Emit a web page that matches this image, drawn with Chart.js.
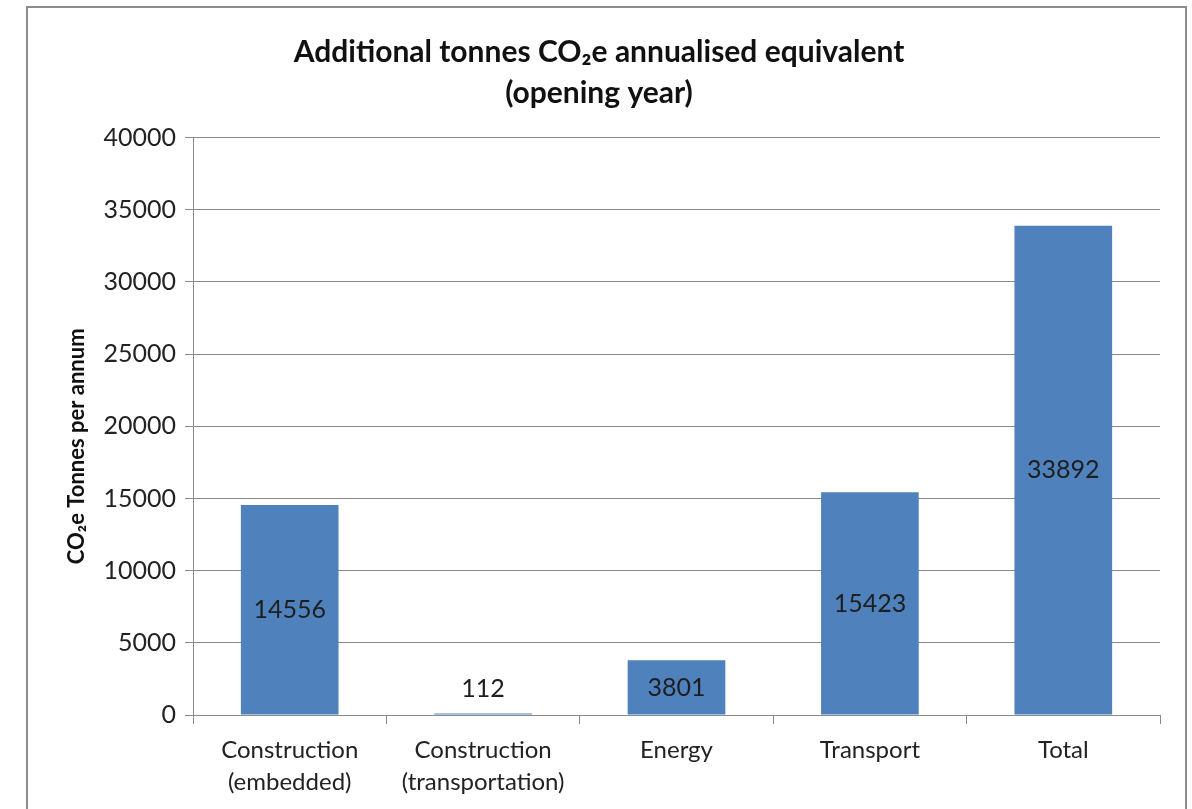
<!DOCTYPE html>
<html>
<head>
<meta charset="utf-8">
<script src="https://cdn.jsdelivr.net/npm/chart.js@4"></script>
<style>
html,body{margin:0;padding:0;background:#fff;}
#wrap{position:relative;width:1192px;height:809px;}
</style>
</head>
<body>
<div id="wrap"><canvas id="c" width="1192" height="809"></canvas></div>
<script>
const categories = [["Construction","(embedded)"],["Construction","(transportation)"],["Energy"],["Transport"],["Total"]];
const values = [14556, 112, 3801, 15423, 33892];
const yTicks = [0, 5000, 10000, 15000, 20000, 25000, 30000, 35000, 40000];
const titleLines = ["Additional tonnes CO\u2082e annualised equivalent", "(opening year)"];
const yTitle = "CO\u2082e Tonnes per annum";

const FONT = "Lato, 'Open Sans', sans-serif";
const GRID = "#8a8a8a";

const borderPlugin = {
  id: 'border',
  beforeDraw(chart) {
    const ctx = chart.ctx;
    ctx.save();
    ctx.fillStyle = '#fff';
    ctx.fillRect(0, 0, chart.width, chart.height);
    ctx.strokeStyle = '#8c8c8c';
    ctx.lineWidth = 2;
    ctx.strokeRect(27, 7, 1159, 840);
    ctx.restore();
  }
};

const yTitlePlugin = {
  id: 'yTitle',
  afterDraw(chart) {
    const ctx = chart.ctx;
    const a = chart.chartArea;
    ctx.save();
    ctx.translate(77, (a.top + a.bottom) / 2 + 20);
    ctx.rotate(-Math.PI / 2);
    ctx.font = "bold 22px " + FONT;
    ctx.fillStyle = "#111";
    ctx.textAlign = "center";
    ctx.textBaseline = "middle";
    ctx.fillText(yTitle, 0, 0);
    ctx.restore();
  }
};

const valueLabels = {
  id: 'valueLabels',
  afterDatasetsDraw(chart) {
    const ctx = chart.ctx;
    const meta = chart.getDatasetMeta(0);
    const yScale = chart.scales.y;
    const base = yScale.getPixelForValue(0);
    ctx.save();
    ctx.font = "25px " + FONT;
    ctx.fillStyle = "#1e1e1e";
    ctx.textAlign = "center";
    ctx.textBaseline = "middle";
    meta.data.forEach((bar, i) => {
      const mid = (bar.y + base) / 2;
      const y = Math.min(mid, base - 26);
      ctx.fillText(String(values[i]), bar.x, y);
    });
    ctx.restore();
  }
};

new Chart(document.getElementById('c'), {
  type: 'bar',
  data: {
    labels: categories,
    datasets: [{
      data: values,
      backgroundColor: '#4F81BD',
      borderWidth: 0,
      categoryPercentage: 1,
      barPercentage: 0.505
    }]
  },
  options: {
    responsive: false,
    animation: false,
    devicePixelRatio: 1,
    layout: { padding: { left: 38, right: 32, top: 0, bottom: 0 } },
    plugins: {
      legend: { display: false },
      tooltip: { enabled: false },
      title: {
        display: true,
        text: titleLines,
        color: '#111',
        font: { family: FONT, size: 30, weight: 'bold', lineHeight: 1.36 },
        padding: { top: 32, bottom: 24 }
      }
    },
    scales: {
      x: {
        grid: { display: true, drawOnChartArea: false, drawTicks: true, tickLength: 9, color: GRID, offset: true },
        border: { display: true, color: GRID, width: 1 },
        ticks: {
          color: '#222',
          font: { family: FONT, size: 24, lineHeight: 1.35 },
          padding: 10,
          maxRotation: 0,
          autoSkip: false
        },
        afterFit(s) { s.height = 94; }
      },
      y: {
        min: 0,
        max: 40000,
        afterBuildTicks(s) { s.ticks = yTicks.map(v => ({ value: v })); },
        grid: { color: GRID, tickLength: 8, drawTicks: true },
        border: { display: true, color: GRID, width: 1 },
        ticks: {
          color: '#222',
          font: { family: FONT, size: 25 },
          padding: 9,
          callback: v => String(v)
        },
        afterFit(s) { s.width = 155; }
      }
    }
  },
  plugins: [borderPlugin, valueLabels, yTitlePlugin]
});
</script>
</body>
</html>
